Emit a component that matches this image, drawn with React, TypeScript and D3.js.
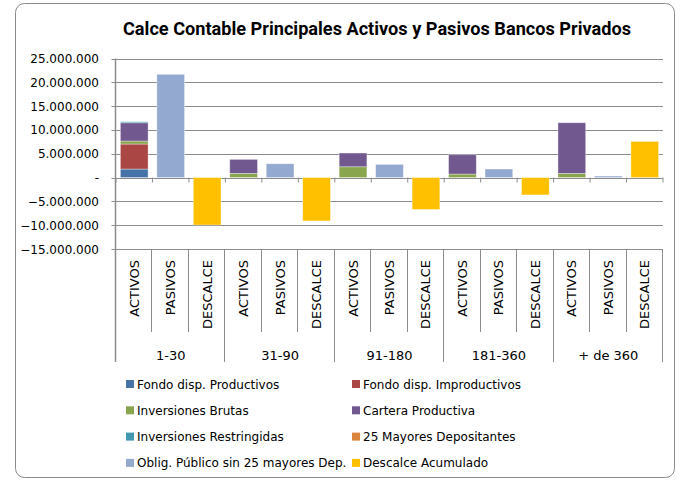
import React from "react";
import * as d3 from "d3";

// plazos y columnas
const groups = ["1-30", "31-90", "91-180", "181-360", "+ de 360"];
const subCats = ["ACTIVOS", "PASIVOS", "DESCALCE"];

// valores (USD)
const fondoProductivos = [1790000, 0, 0, 0, 0];
const fondoImproductivos = [5250000, 0, 0, 0, 0];
const inversionesBrutas = [630000, 880000, 2270000, 740000, 880000];
const carteraProductiva = [3840000, 2940000, 2880000, 4050000, 10630000];
const inversionesRestringidas = [210000, 0, 0, 0, 0];
const mayoresDepositantes = [0, 0, 0, 0, 0];
const obligPublico = [21680000, 2900000, 2770000, 1790000, 320000];
const descalceAcumulado = [-9960000, -9100000, -6700000, -3650000, 7600000];

const yTicks = [-15000000, -10000000, -5000000, 0, 5000000, 10000000, 15000000, 20000000, 25000000];

const series = [
  { key: "fp", name: "Fondo disp. Productivos", color: "#4572A7", values: fondoProductivos, col: "ACTIVOS" },
  { key: "fi", name: "Fondo disp. Improductivos", color: "#AA4643", values: fondoImproductivos, col: "ACTIVOS" },
  { key: "ib", name: "Inversiones Brutas", color: "#89A54E", values: inversionesBrutas, col: "ACTIVOS" },
  { key: "cp", name: "Cartera Productiva", color: "#71588F", values: carteraProductiva, col: "ACTIVOS" },
  { key: "ir", name: "Inversiones Restringidas", color: "#4198AF", values: inversionesRestringidas, col: "ACTIVOS" },
  { key: "md", name: "25 Mayores Depositantes", color: "#DB843D", values: mayoresDepositantes, col: "PASIVOS" },
  { key: "op", name: "Oblig. Público sin 25 mayores Dep.", color: "#93A9CF", values: obligPublico, col: "PASIVOS" },
  { key: "da", name: "Descalce Acumulado", color: "#FFC000", values: descalceAcumulado, col: "DESCALCE" },
];

const locale = d3.formatLocale({ decimal: ",", thousands: ".", grouping: [3], currency: ["", ""] });
const fmt = locale.format(",.0f");

const FONT = "'DejaVu Sans', Verdana, sans-serif";

export default function App() {
  const W = 680;
  const H = 480;
  const left = 116;
  const right = 663;
  const top = 58.5;
  const bottom = 249;

  const rows: any[] = [];
  groups.forEach((g, gi) => {
    subCats.forEach((s) => {
      const row: any = { id: g + "|" + s };
      series.forEach((se) => {
        row[se.key] = se.col === s ? se.values[gi] : 0;
      });
      rows.push(row);
    });
  });

  const x = d3
    .scaleBand()
    .domain(rows.map((r) => r.id))
    .range([left, right])
    .paddingInner(0.24)
    .paddingOuter(0.12);
  const step = x.step();

  const y = d3.scaleLinear().domain([-15000000, 25000000]).range([bottom, top]);

  const stacked = d3
    .stack()
    .keys(series.map((s) => s.key))
    .offset(d3.stackOffsetDiverging)(rows);

  const boundaries = d3.range(rows.length + 1).map((i) => left + i * step);
  const grid = "#8C8C8C";

  return (
    <svg width={W} height={H} style={{ position: "absolute", left: 0, top: 0 }} fontFamily={FONT}>
      <rect x={0} y={0} width={W} height={H} fill="#fff" />
      <rect x={15.5} y={3.5} width={659} height={474} rx={9} fill="#fff" stroke="#8A8A8A" strokeWidth={1} />

      <text
        x={377}
        y={35}
        textAnchor="middle"
        fontSize={18}
        fontWeight="bold"
        fontFamily="Roboto, 'Noto Sans', sans-serif"
        textLength={508}
        lengthAdjust="spacingAndGlyphs"
        fill="#000"
      >
        Calce Contable Principales Activos y Pasivos Bancos Privados
      </text>

      {/* gridlines y eje vertical */}
      {yTicks.map((t) => (
        <g key={t}>
          <line x1={left - 4.5} x2={right} y1={Math.round(y(t)) + 0.5} y2={Math.round(y(t)) + 0.5} stroke={grid} strokeWidth={1} />
          <text x={99} y={y(t) + 4.5} textAnchor="end" fontSize={12} fill="#000">
            {t === 0 ? "-" : fmt(t)}
          </text>
        </g>
      ))}
      <line x1={left - 0.5} x2={left - 0.5} y1={top} y2={362} stroke={grid} strokeWidth={1.5} />

      {/* barras */}
      {stacked.map((layer, li) => (
        <g key={series[li].key} fill={series[li].color}>
          {layer.map((d: any, i: number) => {
            const h = Math.abs(y(d[0]) - y(d[1]));
            if (h < 0.01) return null;
            return (
              <rect
                key={i}
                x={x(rows[i].id)}
                y={Math.min(y(d[0]), y(d[1]))}
                width={x.bandwidth()}
                height={h}
                stroke="rgba(255,255,255,0.45)"
                strokeWidth={0.8}
              />
            );
          })}
        </g>
      ))}

      {/* ticks en el eje cero */}
      {boundaries.map((bx, i) => (
        <line key={"t" + i} x1={bx} x2={bx} y1={y(0)} y2={y(0) + 5} stroke={grid} strokeWidth={1} />
      ))}

      {/* tabla de categorias */}
      {boundaries.map((bx, i) => (
        <line
          key={"s" + i}
          x1={Math.round(bx) - 0.5}
          x2={Math.round(bx) - 0.5}
          y1={bottom}
          y2={i % 3 === 0 ? 362 : 332}
          stroke={grid}
          strokeWidth={1}
        />
      ))}
      {rows.map((r, i) => {
        const cx = left + (i + 0.5) * step;
        return (
          <text
            key={r.id}
            transform={`translate(${cx + 4.5},260) rotate(-90)`}
            textAnchor="end"
            fontSize={13}
            fill="#000"
          >
            {subCats[i % 3]}
          </text>
        );
      })}
      {groups.map((g, gi) => (
        <text key={g} x={left + (gi * 3 + 1.5) * step} y={360} textAnchor="middle" fontSize={13} fill="#000">
          {g}
        </text>
      ))}

      {/* leyenda */}
      {series.map((s, i) => {
        const lx = i % 2 === 0 ? 126 : 352;
        const ly = 384 + Math.floor(i / 2) * 26.3;
        return (
          <g key={s.key}>
            <rect x={lx} y={ly - 4} width={8} height={8} fill={s.color} />
            <text x={lx + 11} y={ly + 4.5} fontSize={12} fill="#000">
              {s.name}
            </text>
          </g>
        );
      })}
    </svg>
  );
}
